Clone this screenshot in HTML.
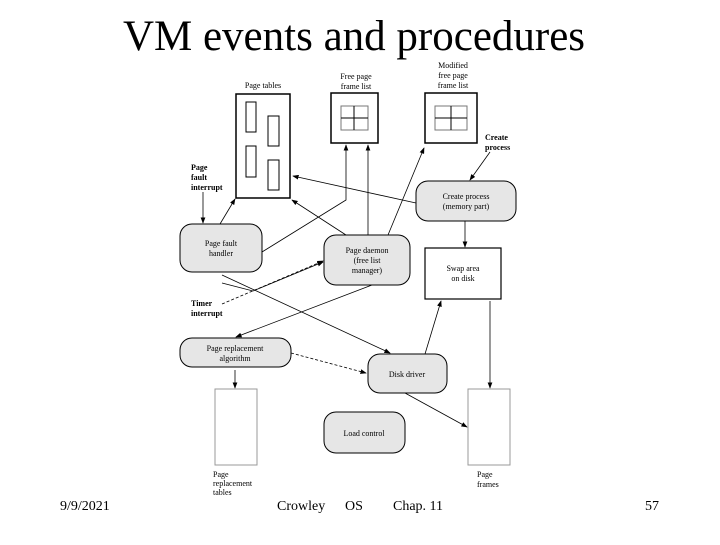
<!DOCTYPE html>
<html><head><style>
body{margin:0;width:720px;height:540px;background:#fff;overflow:hidden;font-family:"Liberation Serif",serif}
</style></head><body>
<svg width="720" height="540" xmlns="http://www.w3.org/2000/svg" font-family="Liberation Serif, serif">
<defs><marker id="a" markerWidth="8" markerHeight="6" refX="7" refY="3" orient="auto"><path d="M0,0 L8,3 L0,6z" fill="#000"/></marker></defs>
<text x="354" y="50" font-size="43" text-anchor="middle">VM events and procedures</text>
<g font-size="14">
<text x="60" y="510">9/9/2021</text><text x="277" y="510">Crowley</text><text x="345" y="510">OS</text><text x="393" y="510">Chap. 11</text><text x="645" y="510">57</text>
</g>
<g stroke="#000" fill="none" stroke-width="1">
<rect x="236" y="94" width="54" height="104" stroke-width="1.5"/>
<rect x="246" y="102" width="10" height="30"/><rect x="268" y="116" width="11" height="30"/>
<rect x="246" y="146" width="10" height="31"/><rect x="268" y="160" width="11" height="30"/>
<rect x="331" y="93" width="47" height="50" stroke-width="1.5"/>
<rect x="341" y="106" width="27" height="24" stroke="#777"/><line x1="354" y1="106" x2="354" y2="130"/><line x1="341" y1="118" x2="368" y2="118"/>
<rect x="425" y="93" width="52" height="50" stroke-width="1.5"/>
<rect x="435" y="106" width="32" height="24" stroke="#777"/><line x1="451" y1="106" x2="451" y2="130"/><line x1="435" y1="118" x2="467" y2="118"/>
<rect x="425" y="248" width="76" height="51" stroke-width="1.2"/>
<rect x="215" y="389" width="42" height="76" stroke="#999"/>
<rect x="468" y="389" width="42" height="76" stroke="#999"/>
</g>
<g stroke="#000" fill="#e6e6e6" stroke-width="1">
<rect x="416" y="181" width="100" height="40" rx="12"/>
<rect x="180" y="224" width="82" height="48" rx="12"/>
<rect x="324" y="235" width="86" height="50" rx="12"/>
<rect x="180" y="338" width="111" height="29" rx="12"/>
<rect x="368" y="354" width="79" height="39" rx="12"/>
<rect x="324" y="412" width="81" height="41" rx="12"/>
</g>
<g stroke="#000" stroke-width="0.8" fill="none" marker-end="url(#a)">
<line x1="203" y1="192" x2="203" y2="223"/>
<line x1="220" y1="224" x2="235" y2="199"/>
<polyline points="262,252 346,200 346,145"/>
<line x1="346" y1="235" x2="292" y2="200"/>
<line x1="368" y1="235" x2="368" y2="145"/>
<line x1="388" y1="235" x2="424" y2="148"/>
<line x1="416" y1="203" x2="293" y2="176"/>
<line x1="490" y1="152" x2="470" y2="180"/>
<line x1="465" y1="221" x2="465" y2="247"/>
<polyline points="222,283 253,291 323,262"/>
<line x1="222" y1="275" x2="390" y2="353"/>
<line x1="372" y1="285" x2="236" y2="337"/>
<line x1="222" y1="304" x2="323" y2="261" stroke-dasharray="3,2"/>
<line x1="291" y1="353" x2="366" y2="373" stroke-dasharray="3,2"/>
<line x1="235" y1="370" x2="235" y2="388"/>
<line x1="425" y1="354" x2="441" y2="301"/>
<line x1="405" y1="393" x2="467" y2="427"/>
<line x1="490" y1="301" x2="490" y2="388"/>
</g>
<g font-size="8" text-anchor="middle">
<text x="263" y="88">Page tables</text>
<text x="356" y="79">Free page</text><text x="356" y="89">frame list</text>
<text x="453" y="68">Modified</text><text x="453" y="78">free page</text><text x="453" y="88">frame list</text>
<text x="466" y="199">Create process</text><text x="466" y="209">(memory part)</text>
<text x="221" y="246">Page fault</text><text x="221" y="256">handler</text>
<text x="367" y="253">Page daemon</text><text x="367" y="263">(free list</text><text x="367" y="273">manager)</text>
<text x="463" y="271">Swap area</text><text x="463" y="281">on disk</text>
<text x="235" y="351">Page replacement</text><text x="235" y="361">algorithm</text>
<text x="407" y="377">Disk driver</text>
<text x="364" y="436">Load control</text>
</g>
<g font-size="8">
<text x="213" y="477">Page</text><text x="213" y="486">replacement</text><text x="213" y="495">tables</text>
<text x="477" y="477">Page</text><text x="477" y="487">frames</text>
</g>
<g font-size="8" font-weight="bold">
<text x="191" y="170">Page</text><text x="191" y="180">fault</text><text x="191" y="190">interrupt</text>
<text x="485" y="140">Create</text><text x="485" y="150">process</text>
<text x="191" y="306">Timer</text><text x="191" y="316">interrupt</text>
</g>
</svg>
</body></html>
